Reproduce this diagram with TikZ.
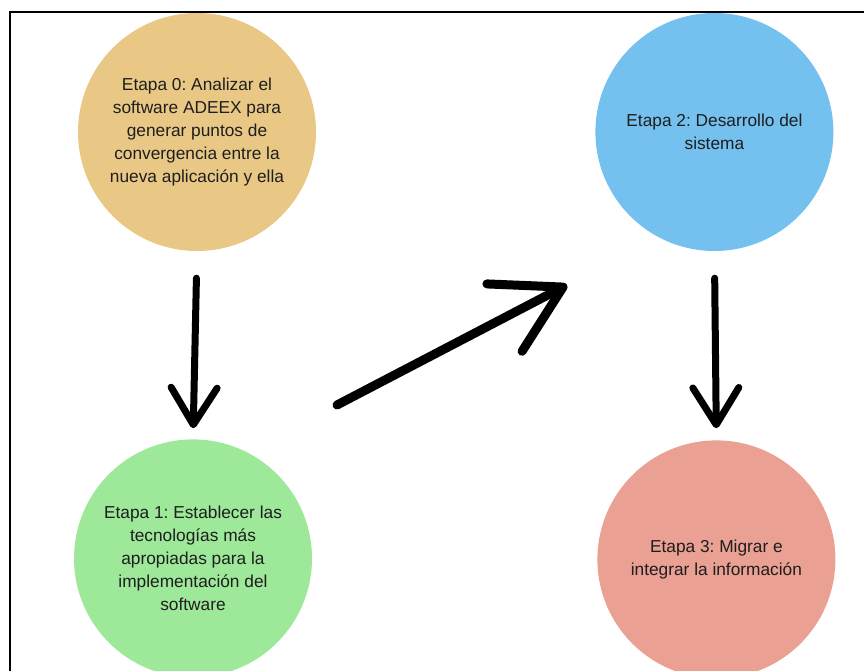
\documentclass[tikz,border=0pt]{standalone}
\usepackage{fontspec}
\setmainfont{Liberation Sans}
\usetikzlibrary{arrows.meta,positioning}
\definecolor{etapaorange}{RGB}{233,200,134}
\definecolor{etapablue}{RGB}{116,192,238}
\definecolor{etapagreen}{RGB}{158,232,154}
\definecolor{etapared}{RGB}{234,160,147}
\definecolor{etapatext}{RGB}{30,30,30}
\frenchspacing

\begin{document}
\begin{tikzpicture}[
    x=1pt, y=-1pt,
    etapa/.style={circle, minimum size=238pt, inner sep=0pt, align=center, text=etapatext, font=\fontsize{17.3}{23}\selectfont},
    flecha/.style={line width=7pt, line cap=round, -{Straight Barb[round, length=37pt, width=46pt]}},
    flechagrande/.style={line width=9pt, line cap=round, -{Straight Barb[round, length=66pt, width=76pt]}}
]
\useasboundingbox (0,0) rectangle (864,671);

% Frame
\draw[line width=2pt] (9.5,671) -- (9.5,12) -- (864,12);

% Etapas
\node[etapa, fill=etapaorange] (etapa0) at (197,132) {Etapa 0: Analizar el\\software ADEEX para\\generar puntos de\\convergencia entre la\\nueva aplicación y ella};
\node[etapa, fill=etapagreen, below=188pt of etapa0, xshift=-4pt] (etapa1) {Etapa 1: Establecer las\\tecnologías más\\apropiadas para la\\implementación del\\software};
\node[etapa, fill=etapablue, right=279pt of etapa0] (etapa2) {Etapa 2: Desarrollo del\\sistema};
\node[etapa, fill=etapared, below=189pt of etapa2, xshift=2pt] (etapa3) {Etapa 3: Migrar e\\integrar la información};

% Arrows
\coordinate (subida0) at (337,405);
\coordinate (subida1) at (567,285);
\draw[flecha, shorten <=27pt, shorten >=11pt] (etapa0.south) -- (etapa1.north);
\draw[flechagrande] (subida0) -- (subida1);
\draw[flecha, shorten <=27pt, shorten >=12pt] (etapa2.south) -- (etapa3.north);

\end{tikzpicture}
\end{document}
